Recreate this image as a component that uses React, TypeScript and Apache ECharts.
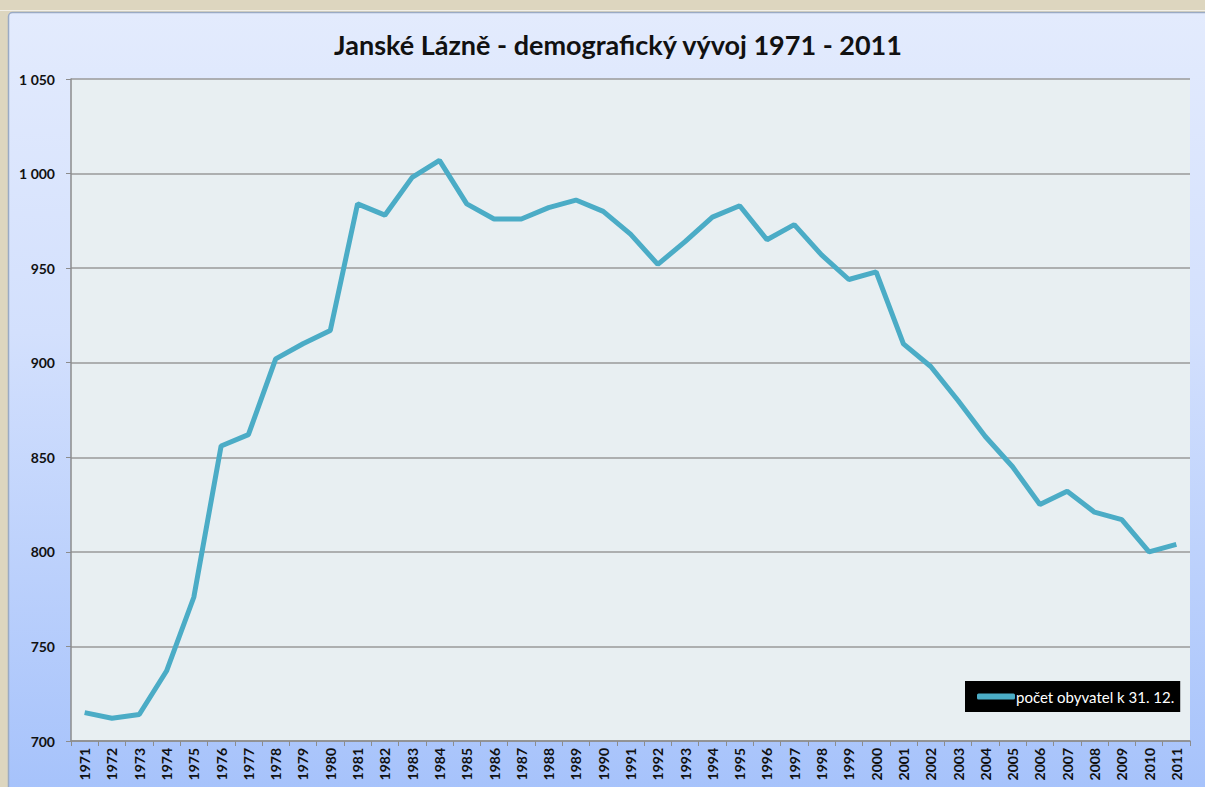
import React, { useEffect, useRef } from "react";
import * as echarts from "echarts";

const years = [
  "1971", "1972", "1973", "1974", "1975", "1976", "1977", "1978", "1979", "1980",
  "1981", "1982", "1983", "1984", "1985", "1986", "1987", "1988", "1989", "1990",
  "1991", "1992", "1993", "1994", "1995", "1996", "1997", "1998", "1999", "2000",
  "2001", "2002", "2003", "2004", "2005", "2006", "2007", "2008", "2009", "2010", "2011",
];

const population = [
  715, 712, 714, 737, 776, 856, 862, 902, 910, 917,
  984, 978, 998, 1007, 984, 976, 976, 982, 986, 980,
  968, 952, 964, 977, 983, 965, 973, 957, 944, 948,
  910, 898, 880, 861, 845, 825, 832, 821, 817, 800, 804,
];

const seriesName = "počet obyvatel k 31. 12.";
const title = "Janské Lázně - demografický vývoj 1971 - 2011";

export default function App() {
  const ref = useRef<HTMLDivElement>(null);
  useEffect(() => {
    if (!ref.current) return;
    const chart = echarts.init(ref.current, null, { renderer: "svg" });
    chart.setOption({
      animation: false,
      backgroundColor: "#ddd6bf",
      graphic: [
        {
          type: "rect",
          z: -10,
          shape: { x: 8.5, y: 12.5, width: 1220, height: 800, r: 4 },
          style: {
            fill: new echarts.graphic.LinearGradient(0, 0, 0, 1, [
              { offset: 0, color: "#e3ebfd" },
              { offset: 0.4, color: "#d3e0fd" },
              { offset: 1, color: "#a4c1fb" },
            ]),
            stroke: "#9aaac4",
            lineWidth: 1.5,
          },
          silent: true,
        },
        {
          type: "line",
          z: -9,
          shape: { x1: 0, y1: 10.5, x2: 1205, y2: 10.5 },
          style: { stroke: "#f2efe6", lineWidth: 1 },
          silent: true,
        },
      ],
      title: {
        text: title,
        left: 613,
        textAlign: "center",
        top: 26,
        textStyle: {
          fontFamily: "Lato",
          fontWeight: "bold",
          fontSize: 27,
          color: "#111",
        },
      },
      legend: {
        show: true,
        left: 965,
        top: 681,
        backgroundColor: "#000",
        padding: [8, 6, 8, 12],
        itemWidth: 38,
        itemHeight: 6,
        itemGap: 2,
        icon: "roundRect",
        textStyle: { color: "#fff", fontFamily: "Lato", fontSize: 15, padding: [0, 0, 0, -4] },
        data: [{ name: seriesName, itemStyle: { color: "#4bacc6" } }],
      },
      grid: {
        left: 71,
        right: 15,
        top: 79,
        bottom: 46,
        show: true,
        backgroundColor: "#e8eff2",
        borderWidth: 0,
      },
      xAxis: {
        type: "category",
        data: years,
        boundaryGap: true,
        axisLine: { show: true, lineStyle: { color: "#8c8c8c", width: 1.5 } },
        axisTick: { show: true, alignWithLabel: false, length: 5, lineStyle: { color: "#8c8c8c" } },
        axisLabel: {
          rotate: 90,
          interval: 0,
          margin: 7,
          fontFamily: "Lato",
          fontWeight: "bold",
          fontSize: 14,
          color: "#111",
        },
        splitLine: { show: false },
      },
      yAxis: {
        type: "value",
        min: 700,
        max: 1050,
        interval: 50,
        axisLine: { show: true, lineStyle: { color: "#8c8c8c", width: 1.5 } },
        axisTick: { show: true, length: 5, lineStyle: { color: "#8c8c8c" } },
        axisLabel: {
          margin: 16,
          fontFamily: "Lato",
          fontWeight: "bold",
          fontSize: 14,
          color: "#111",
          formatter: (v: number) => String(v).replace(/\B(?=(\d{3})+(?!\d))/g, " "),
        },
        splitLine: { show: true, lineStyle: { color: "#9a9a9a", width: 1.5 } },
      },
      series: [
        {
          name: seriesName,
          type: "line",
          data: population,
          symbol: "none",
          lineStyle: { color: "#4bacc6", width: 5 },
          itemStyle: { color: "#4bacc6" },
        },
      ],
    });
    return () => chart.dispose();
  }, []);
  return (
    <div
      ref={ref}
      style={{ position: "fixed", left: 0, top: 0, width: 1205, height: 787 }}
    />
  );
}
